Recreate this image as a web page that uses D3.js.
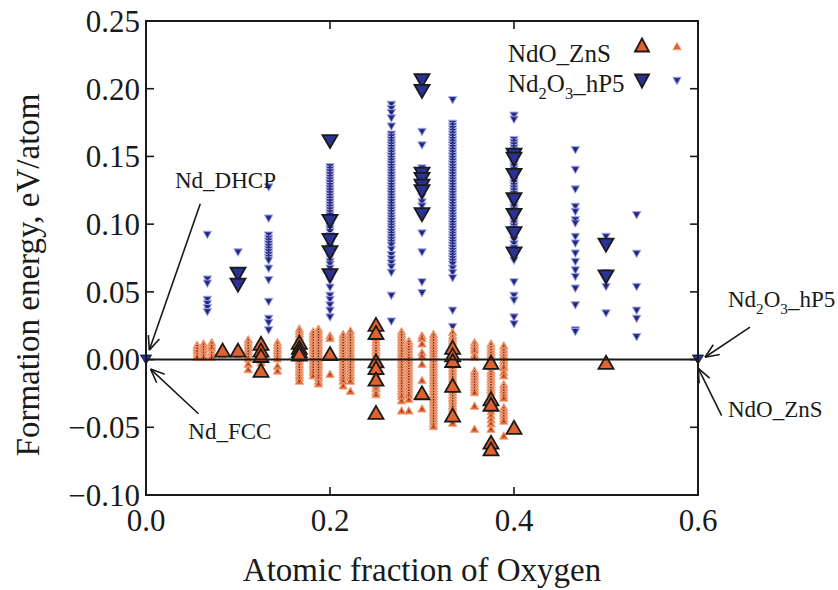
<!DOCTYPE html>
<html>
<head>
<meta charset="utf-8">
<script src="https://cdn.jsdelivr.net/npm/d3@7"></script>
<style>
  body { margin: 0; background: #fff; }
  svg { display: block; }
  text { font-family: "Liberation Serif", "Times New Roman", serif; fill: #1a1a1a; }
</style>
</head>
<body>
<svg id="chart" width="838" height="590"></svg>
<script>
// Axis ticks
const xTicks = [0.0, 0.2, 0.4, 0.6];
const xTickMarks = [0.2, 0.4];
const yTicks = [-0.10, -0.05, 0.00, 0.05, 0.10, 0.15, 0.20, 0.25];

// NdO_ZnS-type structures: [oxygen fraction, formation energies (eV/atom)]
const ndoZnsSmall = [
  [0.0556, [0.011, 0.009, 0.007, 0.005, 0.003, 0.002]],
  [0.0625, [0.012, 0.010, 0.008, 0.006, 0.004, 0.002]],
  [0.0714, [0.013, 0.011, 0.009, 0.006, 0.004, 0.002]],
  [0.0833, [0.009, 0.004]],
  [0.1000, [0.009, 0.004]],
  [0.1111, [0.015, 0.013, 0.011, 0.009, 0.007, 0.005, 0.003, 0.001, -0.003, -0.007]],
  [0.1250, [0.014, 0.012, 0.010, 0.008, 0.005, 0.002, 0.000, -0.002]],
  [0.1429, [0.013, 0.011, 0.009, 0.007, 0.005, 0.003, 0.001, -0.0045, -0.008]],
  [0.1667, [0.023, 0.021, 0.019, 0.017, 0.015, 0.013, 0.011, 0.009, 0.007, 0.005, 0.003, 0.001, -0.001, -0.003, -0.005, -0.007, -0.009, -0.011, -0.013, -0.0155]],
  [0.1818, [0.021, 0.019, 0.017, 0.015, 0.013, 0.011, 0.009, 0.007, 0.005, 0.003, 0.001, -0.001, -0.003, -0.005, -0.007, -0.009, -0.0115]],
  [0.1875, [0.023, 0.021, 0.019, 0.017, 0.015, 0.013, 0.011, 0.009, 0.007, 0.005, 0.003, 0.001, -0.001, -0.003, -0.005, -0.007, -0.009, -0.011, -0.013, -0.0155, -0.0175]],
  [0.2000, [0.018, 0.016, -0.0105]],
  [0.2143, [0.019, 0.017, 0.015, 0.013, 0.011, 0.009, 0.007, 0.005, 0.003, 0.001, -0.001, -0.003, -0.005, -0.007, -0.009, -0.011, -0.013, -0.0155, -0.019]],
  [0.2222, [0.0215, 0.019, 0.017, 0.015, 0.013, 0.011, 0.009, 0.007, 0.005, 0.003, 0.001, -0.001, -0.003, -0.005, -0.007, -0.009, -0.011, -0.013, -0.0155, -0.023]],
  [0.2500, [0.025, 0.023, 0.021, 0.019, 0.017, 0.015, 0.013, 0.011, 0.009, 0.007, 0.005, 0.003, 0.001, -0.001, -0.003, -0.005, -0.009, -0.011, -0.013, -0.017, -0.019, -0.021, -0.0235, -0.0255]],
  [0.2778, [0.021, 0.019, 0.017, 0.015, 0.013, 0.011, 0.009, 0.007, 0.005, 0.003, 0.001, -0.001, -0.003, -0.005, -0.007, -0.009, -0.011, -0.013, -0.015, -0.017, -0.019, -0.021, -0.023, -0.025, -0.027, -0.030, -0.0375]],
  [0.2857, [0.014, 0.012, 0.010, 0.008, 0.006, 0.004, 0.002, 0.000, -0.002, -0.004, -0.006, -0.008, -0.010, -0.012, -0.014, -0.016, -0.018, -0.020, -0.022, -0.024, -0.026, -0.029, -0.0375]],
  [0.3000, [0.018, 0.016, 0.012, 0.0055, 0.003, -0.003, -0.015, -0.036]],
  [0.3125, [0.019, 0.017, 0.015, 0.013, 0.011, 0.009, 0.007, 0.005, 0.003, 0.001, -0.001, -0.003, -0.005, -0.007, -0.009, -0.011, -0.013, -0.015, -0.017, -0.019, -0.021, -0.023, -0.025, -0.027, -0.029, -0.031, -0.033, -0.035, -0.037, -0.039, -0.041, -0.043, -0.045, -0.047, -0.049]],
  [0.3333, [0.0205, 0.018, 0.016, 0.014, 0.012, 0.010, 0.008, 0.006, 0.004, 0.002, 0.000, -0.002, -0.004, -0.006, -0.008, -0.010, -0.012, -0.014, -0.016, -0.018, -0.020, -0.022, -0.024, -0.026, -0.028, -0.030, -0.032, -0.034, -0.036, -0.038, -0.040, -0.043, -0.0465]],
  [0.3571, [0.013, 0.011, 0.009, 0.007, 0.004, 0.002, -0.008, -0.010, -0.012, -0.014, -0.016, -0.018, -0.020, -0.022, -0.024, -0.034, -0.051]],
  [0.3750, [0.012, 0.010, 0.008, 0.006, 0.004, 0.002, 0.000, -0.002, -0.005, -0.008, -0.010, -0.012, -0.014, -0.016, -0.018, -0.020, -0.022, -0.024, -0.027, -0.031, -0.035, -0.038, -0.041, -0.044, -0.047, -0.051]],
  [0.3889, [0.0105, 0.008, 0.006, 0.004, 0.002, 0.000, -0.002, -0.004, -0.0057, -0.009, -0.0115, -0.018, -0.020, -0.022, -0.024, -0.026, -0.028, -0.035, -0.037, -0.039, -0.041, -0.043, -0.045, -0.056]]
];
const ndoZnsLarge = [
  [0.0833, [0.007]],
  [0.1000, [0.007]],
  [0.1250, [0.012, 0.007, 0.003, -0.008]],
  [0.1667, [0.0128, 0.009, 0.0065, 0.004]],
  [0.2000, [0.0045]],
  [0.2500, [0.026, 0.020, -0.001, -0.006, -0.0145, -0.039]],
  [0.3000, [-0.0245]],
  [0.3333, [0.009, 0.0035, -0.0007, -0.019, -0.041]],
  [0.3750, [-0.002, -0.029, -0.033, -0.061, -0.066]],
  [0.4000, [-0.050]],
  [0.5000, [-0.002]]
];

// Nd2O3_hP5-type structures
const nd2o3Small = [
  [0.0667, [0.092, 0.059, 0.056, 0.044, 0.041, 0.038, 0.035]],
  [0.1000, [0.079]],
  [0.1333, [0.127, 0.104, 0.0915, 0.089, 0.087, 0.085, 0.083, 0.081, 0.079, 0.077, 0.075, 0.073, 0.067, 0.0585, 0.0425, 0.030, 0.027, 0.0215]],
  [0.2000, [0.142, 0.140, 0.138, 0.136, 0.134, 0.132, 0.130, 0.128, 0.126, 0.124, 0.122, 0.120, 0.118, 0.116, 0.114, 0.112, 0.110, 0.108, 0.106, 0.104, 0.100, 0.098, 0.096, 0.094, 0.091, 0.085, 0.083, 0.075, 0.072, 0.070, 0.067, 0.064, 0.058, 0.053, 0.047, 0.044, 0.040, 0.036, 0.031]],
  [0.2667, [0.188, 0.185, 0.182, 0.178, 0.172, 0.166, 0.164, 0.162, 0.160, 0.158, 0.156, 0.154, 0.152, 0.150, 0.148, 0.146, 0.144, 0.142, 0.140, 0.138, 0.136, 0.134, 0.132, 0.130, 0.128, 0.126, 0.124, 0.122, 0.120, 0.118, 0.116, 0.114, 0.112, 0.110, 0.108, 0.106, 0.104, 0.102, 0.100, 0.098, 0.096, 0.094, 0.092, 0.090, 0.088, 0.086, 0.084, 0.081, 0.077, 0.074, 0.071, 0.068, 0.064, 0.047, 0.028]],
  [0.3000, [0.168, 0.158, 0.141, 0.120, 0.116, 0.113, 0.093, 0.079, 0.057, 0.049]],
  [0.3333, [0.1915, 0.174, 0.172, 0.170, 0.168, 0.166, 0.164, 0.162, 0.160, 0.158, 0.156, 0.154, 0.152, 0.150, 0.148, 0.146, 0.144, 0.142, 0.140, 0.138, 0.136, 0.134, 0.132, 0.130, 0.128, 0.126, 0.124, 0.122, 0.120, 0.118, 0.116, 0.114, 0.112, 0.110, 0.108, 0.106, 0.104, 0.102, 0.100, 0.098, 0.096, 0.094, 0.092, 0.090, 0.088, 0.086, 0.084, 0.082, 0.080, 0.078, 0.076, 0.074, 0.072, 0.070, 0.067, 0.064, 0.060, 0.036, 0.024]],
  [0.4000, [0.180, 0.177, 0.162, 0.160, 0.158, 0.156, 0.154, 0.152, 0.150, 0.148, 0.146, 0.144, 0.142, 0.140, 0.138, 0.136, 0.134, 0.132, 0.130, 0.128, 0.126, 0.124, 0.122, 0.120, 0.118, 0.116, 0.114, 0.112, 0.110, 0.108, 0.106, 0.104, 0.102, 0.100, 0.098, 0.096, 0.094, 0.091, 0.088, 0.085, 0.082, 0.079, 0.076, 0.073, 0.057, 0.047, 0.0435, 0.031, 0.026]],
  [0.4667, [0.1546, 0.140, 0.1255, 0.1127, 0.109, 0.1028, 0.1004, 0.0905, 0.0856, 0.0782, 0.072, 0.0658, 0.0609, 0.0523, 0.040, 0.0215, 0.0203]],
  [0.5000, [0.0905, 0.0635, 0.0535, 0.034]],
  [0.5333, [0.1065, 0.078, 0.0535, 0.036, 0.030, 0.0165]]
];
const nd2o3Large = [
  [0.1000, [0.063, 0.055]],
  [0.2000, [0.161, 0.102, 0.088, 0.079, 0.062]],
  [0.3000, [0.206, 0.198, 0.137, 0.133, 0.128, 0.124, 0.107]],
  [0.4000, [0.151, 0.148, 0.136, 0.118, 0.1065, 0.093, 0.078]],
  [0.5000, [0.0845, 0.061]]
];

// Pure-element and oxide reference states on the hull
const referenceStates = [
  [0.0, 0.0],
  [0.6, 0.0]
];

const orange = "#e0622e", orangeEdge = "#f1a886", orangeDot = "#6b2c14";
const blue = "#2c3194", blueEdge = "#a9aee2", blueDot = "#15174a";

const svg = d3.select("#chart");
const plot = { left: 146, top: 21, right: 698, bottom: 495 };

const x = d3.scaleLinear().domain([0, 0.6]).range([plot.left, plot.right]);
const y = d3.scaleLinear().domain([-0.10, 0.25]).range([plot.bottom, plot.top]);

function flatten(cols) {
  const out = [];
  cols.forEach(([xf, es]) => es.forEach(e => out.push([xf, e])));
  return out;
}

// Triangle path centred on (cx, cy)
function tri(cx, cy, w, h, up) {
  const s = up ? 1 : -1;
  return `M${cx},${cy - s * h / 2}L${cx + w / 2},${cy + s * h / 2}L${cx - w / 2},${cy + s * h / 2}Z`;
}

function drawSmall(data, up, fill, edge, dot) {
  const g = svg.append("g");
  const pts = flatten(data);
  g.selectAll("path").data(pts).join("path")
    .attr("d", d => tri(x(d[0]), y(d[1]), 8.5, 7.5, up))
    .attr("fill", fill).attr("stroke", edge).attr("stroke-width", 1);
  g.selectAll("circle").data(pts).join("circle")
    .attr("cx", d => x(d[0])).attr("cy", d => y(d[1]) + (up ? 0.8 : -0.8))
    .attr("r", 0.8).attr("fill", dot);
}

function drawLarge(data, up, fill) {
  svg.append("g").selectAll("path").data(flatten(data)).join("path")
    .attr("d", d => tri(x(d[0]), y(d[1]), 15, 13, up))
    .attr("fill", fill).attr("stroke", "#1a1a1a").attr("stroke-width", 1.8)
    .attr("stroke-linejoin", "miter");
}

drawSmall(nd2o3Small, false, blue, blueEdge, blueDot);
drawSmall(ndoZnsSmall, true, orange, orangeEdge, orangeDot);
drawLarge(nd2o3Large, false, blue);
drawLarge(ndoZnsLarge, true, orange);

svg.append("g").selectAll("path").data(referenceStates).join("path")
  .attr("d", d => tri(x(d[0]), y(d[1]), 11, 9, false))
  .attr("fill", blue).attr("stroke", "#1a1a3a").attr("stroke-width", 1);

// Zero-energy reference line
svg.append("line")
  .attr("x1", x(0)).attr("x2", x(0.6)).attr("y1", y(0)).attr("y2", y(0))
  .attr("stroke", "#1a1a1a").attr("stroke-width", 2);

// Frame and inward ticks
const axisColor = "#1a1a1a";
svg.append("rect")
  .attr("x", plot.left).attr("y", plot.top)
  .attr("width", plot.right - plot.left).attr("height", plot.bottom - plot.top)
  .attr("fill", "none").attr("stroke", axisColor).attr("stroke-width", 2);

const tickLen = 8;
const ticks = svg.append("g").attr("stroke", axisColor).attr("stroke-width", 1.6);
yTicks.forEach(t => {
  ticks.append("line").attr("x1", plot.left).attr("x2", plot.left + tickLen).attr("y1", y(t)).attr("y2", y(t));
  ticks.append("line").attr("x1", plot.right).attr("x2", plot.right - tickLen).attr("y1", y(t)).attr("y2", y(t));
});
xTickMarks.forEach(t => {
  ticks.append("line").attr("x1", x(t)).attr("x2", x(t)).attr("y1", plot.bottom).attr("y2", plot.bottom - tickLen);
  ticks.append("line").attr("x1", x(t)).attr("x2", x(t)).attr("y1", plot.top).attr("y2", plot.top + tickLen);
});

const fmtY = d3.format(".2f"), fmtX = d3.format(".1f");
svg.append("g").selectAll("text").data(yTicks).join("text")
  .attr("x", plot.left - 6).attr("y", d => y(d)).attr("dy", "0.35em")
  .attr("text-anchor", "end").attr("font-size", 31).text(d => fmtY(d));
svg.append("g").selectAll("text").data(xTicks).join("text")
  .attr("x", d => x(d)).attr("y", plot.bottom + 36)
  .attr("text-anchor", "middle").attr("font-size", 31).text(d => fmtX(d));

svg.append("text")
  .attr("x", (plot.left + plot.right) / 2).attr("y", 581)
  .attr("text-anchor", "middle").attr("font-size", 33)
  .text("Atomic fraction of Oxygen");
svg.append("text")
  .attr("transform", `translate(39, 275) rotate(-90)`)
  .attr("text-anchor", "middle").attr("font-size", 33)
  .text("Formation energy, eV/atom");

// Annotations with open arrowheads
function arrow(x1, y1, x2, y2) {
  const g = svg.append("g").attr("stroke", "#1a1a1a").attr("stroke-width", 1.6).attr("fill", "none");
  g.append("line").attr("x1", x1).attr("y1", y1).attr("x2", x2).attr("y2", y2);
  const a = Math.atan2(y1 - y2, x1 - x2), L = 15, spread = 0.4;
  [a - spread, a + spread].forEach(b => {
    g.append("line").attr("x1", x2).attr("y1", y2)
      .attr("x2", x2 + L * Math.cos(b)).attr("y2", y2 + L * Math.sin(b));
  });
}

// Chemical formula with subscripts: parts are [text, isSubscript]
function formula(g, parts, size) {
  let shifted = false;
  parts.forEach(([txt, sub]) => {
    const dy = sub && !shifted ? size * 0.28 : (!sub && shifted ? -size * 0.28 : 0);
    shifted = sub;
    g.append("tspan").text(txt)
      .attr("font-size", sub ? size * 0.66 : size)
      .attr("dy", dy);
  });
}
const nd2o3Parts = [["Nd", false], ["2", true], ["O", false], ["3", true], ["_hP5", false]];

const annoSize = 23;
svg.append("text").attr("x", x(0.0315)).attr("y", y(0.127)).attr("font-size", annoSize).text("Nd_DHCP");
arrow(x(0.059), y(0.115), x(0.0036), y(0.007));
svg.append("text").attr("x", x(0.046)).attr("y", y(-0.0587)).attr("font-size", annoSize).text("Nd_FCC");
arrow(x(0.057), y(-0.040), x(0.005), y(-0.007));

const lblR = svg.append("text").attr("x", x(0.6326)).attr("y", y(0.0387)).attr("font-size", annoSize);
formula(lblR, nd2o3Parts, annoSize);
arrow(x(0.6565), y(0.0239), x(0.6076), y(0.0017));
svg.append("text").attr("x", x(0.6326)).attr("y", y(-0.0427)).attr("font-size", annoSize).text("NdO_ZnS");
arrow(x(0.6257), y(-0.0414), x(0.6003), y(-0.0065));

// Legend
const legSize = 25;
const leg = svg.append("g");
leg.append("text").attr("x", 508).attr("y", 62).attr("font-size", legSize).text("NdO_ZnS");
const leg2 = leg.append("text").attr("x", 508).attr("y", 92).attr("font-size", legSize);
formula(leg2, nd2o3Parts, legSize);
leg.append("path").attr("d", tri(642, 45, 14, 13, true))
  .attr("fill", orange).attr("stroke", "#1a1a1a").attr("stroke-width", 1.8);
leg.append("path").attr("d", tri(677, 46, 8.5, 7.5, true))
  .attr("fill", orange).attr("stroke", orangeEdge).attr("stroke-width", 1);
leg.append("path").attr("d", tri(642, 81, 14, 13, false))
  .attr("fill", blue).attr("stroke", "#1a1a1a").attr("stroke-width", 1.8);
leg.append("path").attr("d", tri(677, 81, 8.5, 7.5, false))
  .attr("fill", blue).attr("stroke", blueEdge).attr("stroke-width", 1);
</script>
</body>
</html>
